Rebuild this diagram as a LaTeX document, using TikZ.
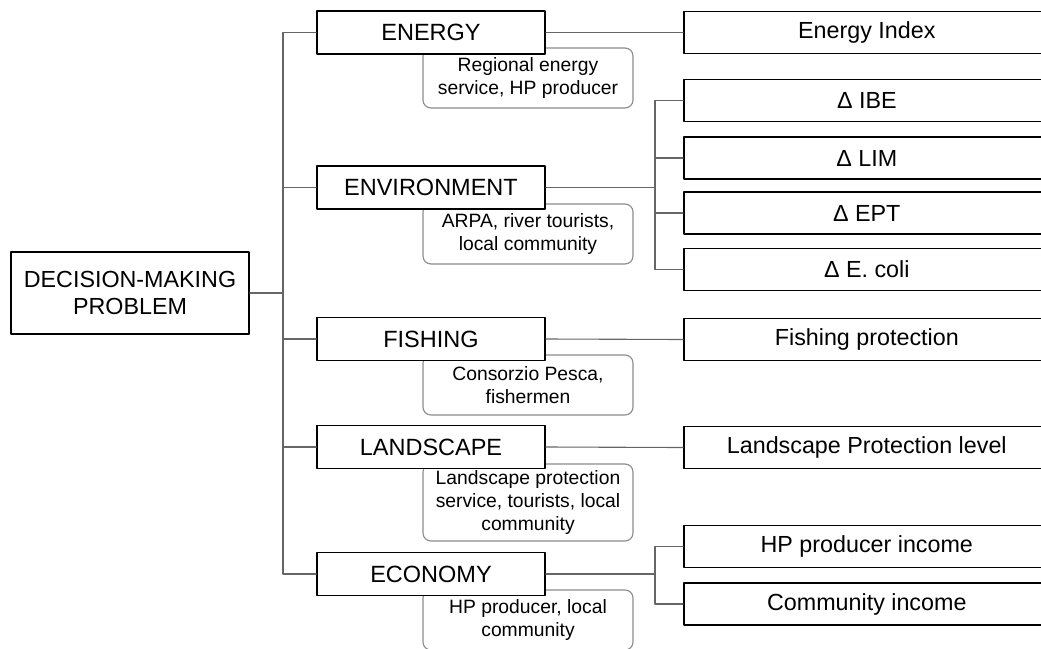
\documentclass[tikz,border=0pt]{standalone}
\usepackage{fontspec}
\setmainfont{Liberation Sans}
\usepackage{tikz}
\usetikzlibrary{positioning}

\begin{document}
\begin{tikzpicture}[line cap=round,line join=round, x=1pt, y=-1pt,
  rootbox/.style={draw=black, line width=1.6pt, fill=white, align=center,
    minimum width=238pt, minimum height=82pt, inner sep=0pt,
    font=\fontsize{23.3}{27.7}\selectfont},
  catbox/.style={draw=black, line width=1.6pt, fill=white,
    minimum width=228pt, minimum height=43pt, inner sep=0pt,
    font=\fontsize{23.5}{27}\selectfont},
  holders/.style={draw=black!45, line width=1.1pt, rounded corners=8pt, fill=white,
    align=center, minimum width=210pt, minimum height=60pt, inner sep=0pt,
    font=\fontsize{19.3}{22.8}\selectfont},
  indbox/.style={draw=black, line width=1.6pt, fill=white, anchor=west,
    minimum width=366pt, minimum height=42pt, inner sep=0pt,
    font=\fontsize{23.3}{27}\selectfont},
  conn/.style={draw=black!60, line width=1.1pt}]
\useasboundingbox (0,0) rectangle (1041,648);
\clip (0,0) rectangle (1041,648);

% root and trunk
\node [rootbox] (root) at (130,293) {DECISION-MAKING\\PROBLEM};
\coordinate (trunk) at (283,293);

% stakeholders
\node [holders] (hEnergy) at (528,78) {Regional energy\\service, HP producer};
\node [holders] (hEnv) at (528,234) {ARPA, river tourists,\\local community};
\node [holders] (hFish) at (528,385) {Consorzio Pesca,\\fishermen};
\node [holders, minimum height=77pt] (hLand) at (528,502.5) {Landscape protection\\service, tourists, local\\community};
\node [holders] (hEco) at (528,620) {HP producer, local\\community};

% criteria
\node [catbox] (energy) at (431,32.5) {ENERGY};
\node [catbox] (environment) at (431,187.5) {ENVIRONMENT};
\node [catbox] (fishing) at (431,339) {FISHING};
\node [catbox] (landscape) at (431,447) {LANDSCAPE};
\node [catbox] (economy) at (431,574) {ECONOMY};

% indicators
\node [indbox] (enIndex) at (683,32.5) {Energy Index};
\node [indbox] (ibe) at (683,100.5) {Δ IBE};
\node [indbox] (lim) at (683,158) {Δ LIM};
\node [indbox] (ept) at (683,213) {Δ EPT};
\node [indbox] (ecoli) at (683,269.5) {Δ E. coli};
\node [indbox] (fishProt) at (683,339.5) {Fishing protection};
\node [indbox] (landProt) at (683,447.5) {Landscape Protection level};
\node [indbox] (hpIncome) at (683,546.5) {HP producer income};
\node [indbox] (comIncome) at (683,604) {Community income};

\coordinate (envfork) at (655,187.5);
\coordinate (ecofork) at (655,574);

% connectors
\draw [conn] (root.east) -- (trunk);
\draw [conn] (energy.west) -| (trunk) |- (economy.west);
\draw [conn] (environment.west) -- (environment.west -| trunk);
\draw [conn] (fishing.west) -- (fishing.west -| trunk);
\draw [conn] (landscape.west) -- (landscape.west -| trunk);

\draw [conn] (energy.east) -- (enIndex.west);
\draw [conn] (environment.east) -- (envfork);
\draw [conn] (ibe.west) -| (envfork) |- (ecoli.west);
\draw [conn] (lim.west) -- (lim.west -| envfork);
\draw [conn] (ept.west) -- (ept.west -| envfork);
\draw [conn] (fishing.east) -- (fishProt.west);
\draw [conn] (landscape.east) -- (landProt.west);
\draw [conn] (economy.east) -- (ecofork);
\draw [conn] (hpIncome.west) -| (ecofork) |- (comIncome.west);
\end{tikzpicture}
\end{document}
